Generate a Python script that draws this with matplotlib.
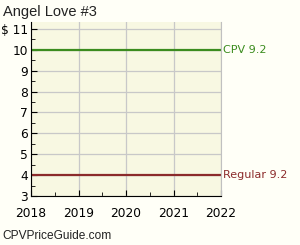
import numpy as np
import matplotlib.pyplot as plt
from matplotlib.ticker import MultipleLocator, FuncFormatter

# chart data
years = [2018, 2019, 2020, 2021, 2022]
cpv_values = [10, 10, 10, 10, 10]
regular_values = [4, 4, 4, 4, 4]
cpv_label = 'CPV 9.2'
regular_label = 'Regular 9.2'
title = 'Angel Love #3'

green = '#3b8c1e'
red = '#8c2b2b'

fig = plt.figure(figsize=(3, 2.45), dpi=100)
fig.patch.set_facecolor('#fffff7')
ax = fig.add_axes([31 / 300, 49 / 245, 190 / 300, 174 / 245])
ax.set_facecolor('#f8f8e2')

ax.plot(years, cpv_values, color=green, lw=1.6, solid_capstyle='butt')
ax.plot(years, regular_values, color=red, lw=1.6, solid_capstyle='butt')

ax.set_xlim(2018, 2022)
ax.set_ylim(3, 11.33)
ax.xaxis.set_major_locator(MultipleLocator(1))
ax.xaxis.set_minor_locator(MultipleLocator(0.5))
ax.yaxis.set_major_locator(MultipleLocator(1))
ax.yaxis.set_minor_locator(MultipleLocator(0.5))
ax.yaxis.set_major_formatter(FuncFormatter(lambda v, p: '$ %d' % v if v == 11 else '%d' % v))

ax.grid(True, which='major', color='#c8c8c8', lw=0.9)
ax.set_axisbelow(True)
ax.tick_params(which='both', direction='in', labelsize=8.8, color='black')
ax.tick_params(which='major', length=4)
ax.tick_params(which='minor', length=3)
ax.tick_params(axis='y', pad=2)
ax.tick_params(axis='x', pad=8)
for lbl in ax.get_yticklabels() + ax.get_xticklabels():
    lbl.set_family('DejaVu Sans')

ax.spines['top'].set_visible(False)
ax.spines['right'].set_color('#c0c0c0')
ax.spines['left'].set_color('black')
ax.spines['bottom'].set_color('black')

ax.text(1.012, cpv_values[-1], cpv_label, transform=ax.get_yaxis_transform(),
        color=green, fontsize=8, va='center', ha='left')
ax.text(1.012, regular_values[-1], regular_label, transform=ax.get_yaxis_transform(),
        color=red, fontsize=8, va='center', ha='left')

fig.text(3 / 300, 1 - 12 / 245, title, fontsize=10.5, family='Liberation Sans',
         va='center', ha='left', color='#222222')
fig.text(2 / 300, 1 - 236 / 245, 'CPVPriceGuide.com', fontsize=8.6,
         family='Liberation Sans', va='center', ha='left', color='#222222')

fig.savefig('out.png', dpi=100, facecolor=fig.get_facecolor())
